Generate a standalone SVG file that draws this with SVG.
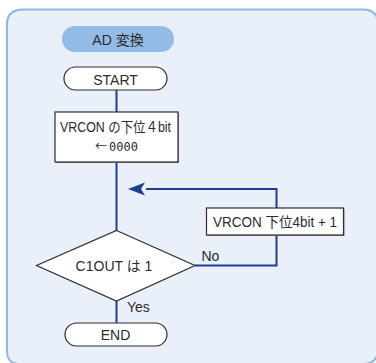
<svg xmlns="http://www.w3.org/2000/svg" width="376" height="363" viewBox="0 0 376 363">
  <style>
    .txt { font-family: "Liberation Sans", "Noto Sans CJK JP", sans-serif; font-size: 14px; fill: #2b2b2b; text-anchor: middle; }
    .lbl { font-family: "Liberation Sans", "Noto Sans CJK JP", sans-serif; font-size: 14px; fill: #2b2b2b; }
    .arr { font-family: "Noto Sans CJK JP", sans-serif; font-size: 12px; fill: #2b2b2b; }
    .mono { font-family: "DejaVu Sans Mono", monospace; font-size: 12px; fill: #2b2b2b; }
    .shape { fill: #ffffff; stroke: #2e2e2e; stroke-width: 1.2; }
    .shadow { fill: #8a8a8a; }
    .flow { fill: none; stroke: #1f3d94; stroke-width: 2; }
  </style>

  <!-- background panel (runs past the right and bottom edges) -->
  <path d="M23,9.5 H363 Q378,9.5 378,24.5 V349 Q378,364 363,364 H20 Q7,364 7,351 V24.5 Q7,9.5 23,9.5 Z" fill="#e9f0f9" stroke="#8fb7e4" stroke-width="2"/>

  <!-- connectors -->
  <g id="connectors">
    <line class="flow" x1="116.5" y1="90" x2="116.5" y2="112"/>
    <line class="flow" x1="116.5" y1="162" x2="116.5" y2="231"/>
    <polyline class="flow" points="195,265.5 276.5,265.5 276.5,189 146,189"/>
    <path d="M128,189 L145,182.5 L141,189 L145,195.5 Z" fill="#1f3d94"/>
    <line class="flow" x1="116.5" y1="301" x2="116.5" y2="323"/>
  </g>

  <!-- title -->
  <g id="title">
    <rect x="62" y="26" width="112" height="26" rx="13" fill="#92bbe5"/>
    <text class="txt" x="118" y="45">AD 変換</text>
  </g>

  <g id="start">
    <rect class="shape" x="64" y="67" width="103" height="23" rx="11.5"/>
    <text class="txt" x="115.5" y="84.5">START</text>
  </g>

  <g id="init">
    <rect class="shadow" x="56" y="113" width="123" height="50"/>
    <rect class="shape" x="55" y="112" width="123" height="50"/>
    <text class="txt" x="115.5" y="131.5" textLength="111" lengthAdjust="spacingAndGlyphs">VRCON の下位４bit</text>
    <text class="arr" x="95" y="150.5">←</text>
    <text class="mono" x="109" y="150.5">0000</text>
  </g>

  <g id="increment">
    <rect class="shadow" x="207.5" y="209" width="137" height="27"/>
    <rect class="shape" x="206.5" y="208" width="137" height="27"/>
    <text class="txt" x="275" y="226.5" textLength="124" lengthAdjust="spacingAndGlyphs">VRCON 下位4bit + 1</text>
  </g>

  <g id="decision">
    <polygon class="shape" points="116.5,230.5 195,265.5 116.5,301 36.5,265.5"/>
    <text class="txt" x="114" y="270.5">C1OUT は 1</text>
    <text class="lbl" x="201.5" y="261">No</text>
    <text class="lbl" x="127" y="312">Yes</text>
  </g>

  <g id="end">
    <rect class="shape" x="65" y="323" width="102" height="23" rx="11.5"/>
    <text class="txt" x="115.5" y="340">END</text>
  </g>
</svg>
